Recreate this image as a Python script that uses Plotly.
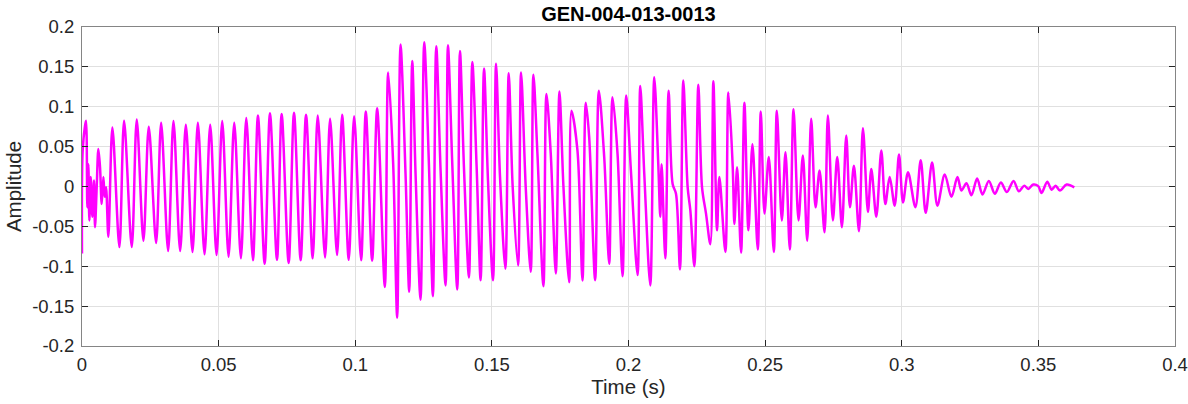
import plotly.graph_objects as go

# Key points of the waveform (time in ms, amplitude)
time_ms = [
    0.00, 0.24, 1.10, 1.47, 1.95, 2.32, 2.69, 3.18, 3.79, 4.40, 4.77, 5.38, 5.99, 6.60,
    7.21, 7.82, 8.31, 8.80, 9.65, 11.12,
    13.69, 15.40, 18.21, 20.04, 22.48, 24.44, 27.13, 28.96, 31.52, 33.48, 35.92, 38.00,
    40.44, 42.40, 44.84, 46.92, 49.24, 51.32, 53.64, 55.72, 58.16, 60.12, 62.56, 64.39,
    66.84, 68.79, 71.36, 73.07, 75.63, 77.59, 80.03, 81.99, 84.43, 86.27, 88.95, 90.79,
    93.35, 95.19, 97.63, 99.59, 102.15, 103.86,
    106.18, 108.02, 110.83, 112.05, 113.88, 115.35, 116.57, 118.40, 119.75, 120.85,
    122.07, 123.90, 125.24, 126.96, 128.42, 129.64, 131.23, 133.06, 133.92, 135.51,
    137.34, 138.32, 139.78, 141.62, 142.84, 144.43, 145.89, 147.12, 148.58, 150.42,
    151.52, 152.98, 154.94, 156.16, 157.62, 159.58, 160.68, 162.39, 164.22, 165.20,
    166.67, 168.87, 169.97, 171.55, 173.39, 174.73, 176.20, 178.27, 179.13, 181.33,
    183.16, 184.38, 185.61, 187.80, 189.15, 191.11, 192.94, 194.16, 195.99, 197.82,
    199.17, 200.88, 203.32, 204.30, 205.77, 207.97,
    209.43, 210.90, 211.63, 212.12, 213.47, 214.69, 216.15, 217.38, 218.84, 220.06,
    221.65, 222.63, 224.10, 225.56, 226.91, 228.37, 229.96, 231.06, 232.40, 233.26,
    235.46, 236.56, 238.15, 238.76, 239.74, 241.20, 242.42, 243.89, 245.36, 247.31,
    248.41, 249.76, 251.34, 253.18, 254.28, 256.11, 257.45, 259.04, 260.39, 262.22,
    263.81, 265.40, 266.86, 268.45, 269.92, 271.75, 272.97, 274.80, 276.39, 278.10,
    279.69, 281.04, 282.50, 284.34, 285.80, 287.63, 288.86, 290.69, 292.52,
    293.99, 295.58, 297.41, 299.00, 300.46, 302.30, 304.99, 306.94, 308.77, 311.10,
    313.05, 315.74, 318.18, 320.38, 321.85, 323.68, 325.51, 327.59, 329.55, 331.87,
    334.07, 336.27, 338.47, 340.91, 342.86, 344.82, 346.29, 348.12, 349.95, 351.17,
    353.25, 354.84, 356.30, 357.89, 360.34, 363.15,
]
amplitude = [
    -0.084, 0.045, 0.076, 0.0825, -0.026, 0.028, -0.0425, 0.012, -0.038, 0.0075, -0.051, -0.001, 0.047, 0.024,
    -0.022, 0.012, -0.013, -0.001, -0.063, 0.074,
    -0.076, 0.0825, -0.076, 0.084, -0.068, 0.075, -0.071, 0.080, -0.081, 0.082, -0.081, 0.0775,
    -0.082, 0.080, -0.085, 0.0775, -0.086, 0.082, -0.088, 0.080, -0.090, 0.086, -0.0925, 0.089,
    -0.097, 0.092, -0.092, 0.091, -0.096, 0.0925, -0.0925, 0.090, -0.090, 0.089, -0.089, 0.085,
    -0.086, 0.090, -0.092, 0.088, -0.0925, 0.094,
    -0.093, 0.098, -0.126, 0.143, 0.028, -0.1646, 0.178, 0.016, -0.132, 0.1575,
    0.016, -0.142, 0.181, 0.028, -0.1375, 0.176, 0.020, -0.124, 0.177, 0.028,
    -0.129, 0.170, 0.024, -0.114, 0.156, 0.024, -0.1175, 0.148, 0.0075, -0.1175,
    0.154, 0.012, -0.103, 0.142, -0.001, -0.099, 0.143, -0.001, -0.107, 0.140,
    0.041, -0.125, 0.116, 0.041, -0.109, 0.119, -0.001, -0.120, 0.095, 0.045,
    -0.118, 0.105, 0.062, -0.1175, 0.120, 0.037, -0.097, 0.112, 0.041, -0.1125,
    0.114, 0.020, -0.111, 0.126, 0.016, -0.124,
    0.137, 0.028, -0.038, 0.028, -0.090, 0.120, 0.003, -0.009, -0.104, 0.133,
    -0.001, -0.030, -0.100, 0.1275, -0.001, -0.034, -0.0725, 0.132, -0.055, 0.012,
    -0.082, 0.118, 0.024, -0.047, 0.024, -0.083, 0.105, -0.055, 0.053, -0.079,
    0.094, -0.034, 0.037, -0.082, 0.095, -0.0425, 0.043, -0.079, 0.097, -0.0425,
    0.039, -0.068, 0.085, -0.026, 0.020, -0.0575, 0.089, -0.0425, 0.037, -0.051,
    0.064, -0.026, 0.026, -0.056, 0.073, -0.032, 0.022, -0.038, 0.045,
    -0.022, 0.012, -0.024, 0.040, -0.020, 0.018, -0.026, 0.033, -0.033, 0.030,
    -0.024, 0.015, -0.013, 0.012, -0.005, 0.004, -0.011, 0.010, -0.010, 0.007,
    -0.009, 0.005, -0.007, 0.007, -0.006, 0.001, -0.003, 0.0025, 0.0005, -0.008,
    0.006, -0.004, 0.001, -0.005, 0.0025, -0.001,
]

time_s = [t / 1000.0 for t in time_ms]

x_ticks = [0, 0.05, 0.1, 0.15, 0.2, 0.25, 0.3, 0.35, 0.4]
x_tick_text = ["0", "0.05", "0.1", "0.15", "0.2", "0.25", "0.3", "0.35", "0.4"]
y_ticks = [-0.2, -0.15, -0.1, -0.05, 0, 0.05, 0.1, 0.15, 0.2]
y_tick_text = ["-0.2", "-0.15", "-0.1", "-0.05", "0", "0.05", "0.1", "0.15", "0.2"]

FONT = "Liberation Sans, Arial, sans-serif"

fig = go.Figure()
fig.add_trace(go.Scatter(
    x=time_s, y=amplitude, mode="lines",
    line=dict(color="#FF00FF", width=2.5, shape="spline", smoothing=0.9),
    hoverinfo="x+y", showlegend=False,
))

axis_common = dict(
    showline=True, linecolor="#858585", linewidth=1, mirror="ticks",
    ticks="inside", ticklen=6, tickcolor="#262626", tickwidth=1,
    showgrid=True, gridcolor="#E0E0E0", gridwidth=1,
    zeroline=False, automargin=False,
    tickfont=dict(family=FONT, size=18.5, color="#262626"),
)

fig.update_layout(
    width=1188, height=404,
    margin=dict(l=82, r=13, t=27, b=58),
    paper_bgcolor="white", plot_bgcolor="white",
    title=dict(text="<b>GEN-004-013-0013</b>", x=0.5290, xanchor="center",
               y=0.965, yanchor="middle",
               font=dict(family=FONT, size=20, color="#000000")),
    xaxis=dict(axis_common, range=[0, 0.4], tickvals=x_ticks, ticktext=x_tick_text,
               title=dict(text="Time (s)", standoff=5,
                          font=dict(family=FONT, size=20.5, color="#262626")),
               ticklabelstandoff=2),
    yaxis=dict(axis_common, range=[-0.2, 0.2], tickvals=y_ticks, ticktext=y_tick_text,
               title=dict(text="Amplitude", standoff=4,
                          font=dict(family=FONT, size=20.5, color="#262626")),
               ticklabelstandoff=3),
)

fig.write_html(
    "out.html",
    config={"displayModeBar": False},
    post_script="document.body.style.margin='0';document.body.style.overflow='hidden';",
)
